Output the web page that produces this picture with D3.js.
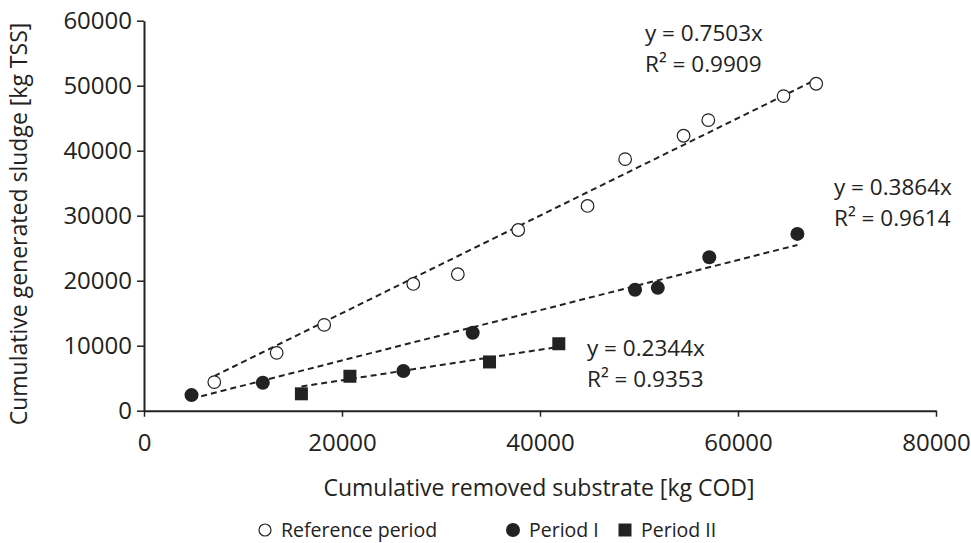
<!DOCTYPE html>
<html>
<head>
<meta charset="utf-8">
<script src="https://cdn.jsdelivr.net/npm/d3@7"></script>
<style>
  body { margin: 0; background: #fff; }
  text { font-family: "Open Sans", sans-serif; fill: #222; }
</style>
</head>
<body>
<svg id="chart" width="971" height="543"></svg>
<script>
// data
var refX = [7100, 13400, 18200, 27200, 31700, 37800, 44800, 48600, 54500, 57000, 64600, 67900];
var refY = [4400, 8900, 13200, 19500, 21000, 27800, 31500, 38700, 42300, 44700, 48400, 50300];
var p1X = [4800, 12000, 26200, 33200, 49600, 51900, 57100, 66000];
var p1Y = [2400, 4300, 6100, 12000, 18600, 18900, 23600, 27200];
var p2X = [15900, 20800, 34900, 41900];
var p2Y = [2600, 5300, 7500, 10300];

var slopes = [0.7503, 0.3864, 0.2344];
var eqText = ["y = 0.7503x", "y = 0.3864x", "y = 0.2344x"];
var r2Text = ["R² = 0.9909", "R² = 0.9614", "R² = 0.9353"];
var seriesNames = ["Reference period", "Period I", "Period II"];

var xTicks = [0, 20000, 40000, 60000, 80000];
var yTicks = [0, 10000, 20000, 30000, 40000, 50000, 60000];

var svg = d3.select("#chart");
var ink = "#222";

var x = d3.scaleLinear().domain([0, 80000]).range([144, 936]);
var y = d3.scaleLinear().domain([0, 60000]).range([410.7, 20.7]);

// axes
var xAxis = svg.append("g")
    .attr("transform", "translate(0," + y(0) + ")")
    .call(d3.axisBottom(x).tickValues(xTicks).tickSize(6).tickPadding(17).tickSizeOuter(0).tickFormat(d3.format("d")));
var yAxis = svg.append("g")
    .attr("transform", "translate(" + x(0) + ",0)")
    .call(d3.axisLeft(y).tickValues(yTicks).tickSize(7).tickPadding(5).tickSizeOuter(0).tickFormat(d3.format("d")));

[xAxis, yAxis].forEach(function (g) {
    g.select(".domain").attr("stroke", ink).attr("stroke-width", 2);
    g.selectAll(".tick line").attr("stroke", ink).attr("stroke-width", 1.5);
    g.selectAll(".tick text").style("font-size", "24px").attr("fill", ink);
});

// axis titles
svg.append("text")
    .attr("x", 539).attr("y", 496)
    .attr("text-anchor", "middle")
    .style("font-size", "23px")
    .text("Cumulative removed substrate [kg COD]");
svg.append("text")
    .attr("transform", "translate(27,224) rotate(-90)")
    .attr("text-anchor", "middle")
    .style("font-size", "23px")
    .text("Cumulative generated sludge  [kg TSS]");

// series
var series = [
    { xs: refX, ys: refY, shape: "open" },
    { xs: p1X, ys: p1Y, shape: "dot" },
    { xs: p2X, ys: p2Y, shape: "square" }
];

// trend lines (through origin, over data range)
series.forEach(function (s, i) {
    var x0 = d3.min(s.xs), x1 = d3.max(s.xs);
    svg.append("line")
        .attr("x1", x(x0)).attr("y1", y(slopes[i] * x0))
        .attr("x2", x(x1)).attr("y2", y(slopes[i] * x1))
        .attr("stroke", ink)
        .attr("stroke-width", 2)
        .attr("stroke-dasharray", "6,4");
});

function drawMarker(g, shape, cx, cy) {
    if (shape == "open") {
        g.append("circle").attr("cx", cx).attr("cy", cy).attr("r", 6.3)
            .attr("fill", "#fff").attr("stroke", ink).attr("stroke-width", 1.2);
    } else if (shape == "dot") {
        g.append("circle").attr("cx", cx).attr("cy", cy).attr("r", 7)
            .attr("fill", ink);
    } else {
        g.append("rect").attr("x", cx - 6.5).attr("y", cy - 6.5)
            .attr("width", 13).attr("height", 13).attr("fill", ink);
    }
}

var marks = svg.append("g");
series.forEach(function (s) {
    s.xs.forEach(function (v, j) {
        drawMarker(marks, s.shape, x(v), y(s.ys[j]));
    });
});

// equation labels, one text per line
var eqPos = [[645, 41], [834, 195], [587, 356]];
eqPos.forEach(function (p, i) {
    svg.append("text").attr("x", p[0]).attr("y", p[1])
        .style("font-size", "22.5px").text(eqText[i]);
    svg.append("text").attr("x", p[0]).attr("y", p[1] + 31)
        .style("font-size", "22.5px").text(r2Text[i]);
});

// legend
var legX = [265, 513, 625];
var legend = svg.append("g");
seriesNames.forEach(function (name, i) {
    var shape = series[i].shape;
    if (shape == "open") {
        legend.append("circle").attr("cx", legX[i]).attr("cy", 530).attr("r", 6)
            .attr("fill", "#fff").attr("stroke", ink).attr("stroke-width", 1.2);
    } else if (shape == "dot") {
        legend.append("circle").attr("cx", legX[i]).attr("cy", 530).attr("r", 7).attr("fill", ink);
    } else {
        legend.append("rect").attr("x", legX[i] - 6.5).attr("y", 523.5)
            .attr("width", 13).attr("height", 13).attr("fill", ink);
    }
    legend.append("text")
        .attr("x", legX[i] + 16).attr("y", 537)
        .style("font-size", "19.5px")
        .text(name);
});
</script>
</body>
</html>
